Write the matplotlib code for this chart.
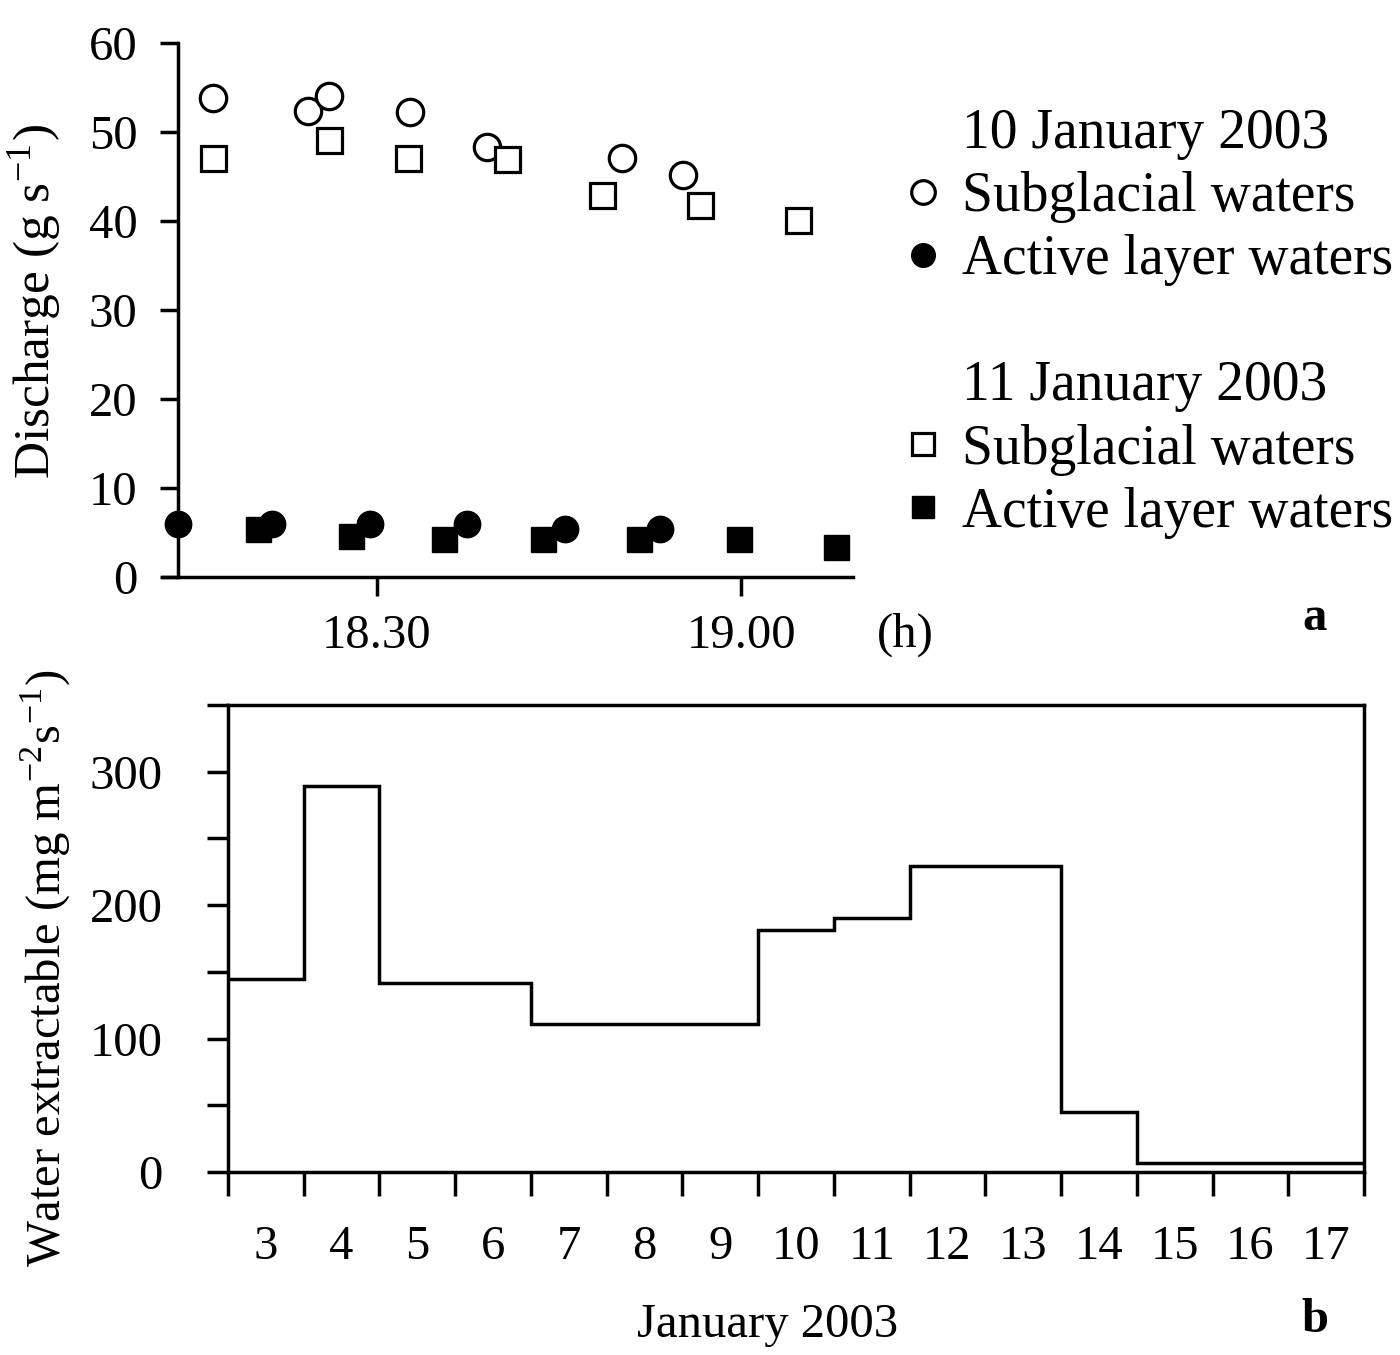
import matplotlib
matplotlib.use("Agg")
import matplotlib.pyplot as plt
from matplotlib.lines import Line2D
import numpy as np

plt.rcParams['font.family'] = ['Liberation Serif', 'DejaVu Serif']
plt.rcParams['mathtext.fontset'] = 'stix'

# ---- Panel a data (time in minutes after 18:00) ----
t_sub_10 = [16.5, 24.3, 26.1, 32.7, 39.1, 50.2, 55.2]
q_sub_10 = [53.8, 52.4, 54.1, 52.2, 48.3, 47.1, 45.2]
t_act_10 = [13.6, 21.4, 29.4, 37.4, 45.5, 53.3]
q_act_10 = [6.0, 6.0, 6.0, 6.0, 5.4, 5.4]
t_sub_11 = [16.5, 26.1, 32.6, 40.7, 48.5, 56.6, 64.7]
q_sub_11 = [47.1, 49.1, 47.1, 47.0, 42.9, 41.8, 40.1]
t_act_11 = [20.2, 27.9, 35.5, 43.7, 51.6, 59.8, 67.8]
q_act_11 = [5.4, 4.6, 4.3, 4.3, 4.3, 4.3, 3.4]
time_ticks = [30, 60]
time_labels = ['18.30', '19.00']

# ---- Panel b data ----
days = [3, 4, 5, 6, 7, 8, 9, 10, 11, 12, 13, 14, 15, 16, 17]
wex = [145, 289, 142, 142, 111, 111, 111, 181, 190, 229, 229, 45, 7, 7, 7]

W, H = 1400, 1355
fig = plt.figure(figsize=(14, 13.55), dpi=100)

FS = 35
LW = 2.5

# ---------------- Panel a ----------------
axa = fig.add_axes([163 / W, 1 - 577 / H, (853 - 163) / W, (577 - 43) / H])
axa.set_xlim(12.4, 69.2)
axa.set_ylim(0, 60)
ms = 19
axa.plot(t_sub_10, q_sub_10, 'o', ms=ms, mfc='white', mec='black', mew=2.3, ls='none', clip_on=False)
axa.plot(t_act_10, q_act_10, 'o', ms=ms, mfc='black', mec='black', ls='none', clip_on=False)
axa.plot(t_sub_11, q_sub_11, 's', ms=ms - 1, mfc='white', mec='black', mew=2.3, ls='none', clip_on=False)
axa.plot(t_act_11, q_act_11, 's', ms=ms - 1, mfc='black', mec='black', ls='none', clip_on=False)

for s in ['top', 'right']:
    axa.spines[s].set_visible(False)
axa.spines['left'].set_position(('data', 13.6))
for s in ['left', 'bottom']:
    axa.spines[s].set_linewidth(LW)
axa.set_yticks(np.arange(0, 61, 10))
axa.set_xticks(time_ticks)
axa.set_xticklabels(time_labels)
axa.tick_params(axis='y', direction='out', length=13, width=LW, labelsize=FS, pad=16)
axa.tick_params(axis='x', direction='out', length=14, width=LW, labelsize=FS, pad=13)
axa.set_ylabel(r'Discharge (g s$^{\mathregular{-1}}$)', fontsize=37, va='center')
axa.yaxis.set_label_coords((35 - 163) / (853 - 163), (577 - 302) / (577 - 43))

fig.text(905 / W, 1 - 635 / H, '(h)', fontsize=FS, ha='center', va='center')
fig.text(1315 / W, 1 - 618 / H, 'a', fontsize=FS, ha='center', va='center', fontweight='bold')

blank = Line2D([], [], ls='none', marker=None)
lms = 17
handles = [
    blank,
    Line2D([], [], ls='none', marker='o', ms=lms, mfc='white', mec='black', mew=2.3),
    Line2D([], [], ls='none', marker='o', ms=lms, mfc='black', mec='black'),
    blank,
    blank,
    Line2D([], [], ls='none', marker='s', ms=lms - 1, mfc='white', mec='black', mew=2.3),
    Line2D([], [], ls='none', marker='s', ms=lms - 1, mfc='black', mec='black'),
]
labels = ['10 January 2003', 'Subglacial waters', 'Active layer waters', ' ',
          '11 January 2003', 'Subglacial waters', 'Active layer waters']
fig.legend(handles, labels, loc='upper left', bbox_to_anchor=(895 / W, 1 - 108 / H),
           frameon=False, fontsize=40, handlelength=1.0, handletextpad=0.2,
           labelspacing=0.2, borderpad=0, borderaxespad=0)

# ---------------- Panel b ----------------
axb = fig.add_axes([228 / W, 1 - 1172 / H, (1364 - 228) / W, (1172 - 705) / H])
edges = np.concatenate([np.array(days) - 0.5, [days[-1] + 0.5]])
axb.stairs(wex, edges, color='black', lw=LW, baseline=None)
axb.set_xlim(edges[0], edges[-1])
axb.set_ylim(0, 350)
for s in axb.spines.values():
    s.set_linewidth(LW)
axb.set_yticks(np.arange(0, 351, 50))
axb.set_yticklabels(['0', '', '100', '', '200', '', '300', ''])
axb.set_xticks(edges)
axb.set_xticklabels([''] * len(edges))
axb.set_xticks(days, minor=True)
axb.set_xticklabels([str(d) for d in days], minor=True)
axb.tick_params(axis='y', direction='out', length=15, width=LW, labelsize=FS, pad=32)
axb.tick_params(axis='x', which='major', direction='out', length=17, width=LW)
axb.tick_params(axis='x', which='minor', length=0, labelsize=FS, pad=38)
axb.set_ylabel(r'Water extractable (mg m$^{\mathregular{-2}}$s$^{\mathregular{-1}}$)', fontsize=FS, va='center')
axb.yaxis.set_label_coords((45 - 228) / (1364 - 228), (1172 - 968) / (1172 - 705))
axb.set_xlabel('January 2003', fontsize=FS, va='center')
axb.xaxis.set_label_coords((768 - 228) / (1364 - 228), (1172 - 1325) / (1172 - 705))

fig.text(1315 / W, 1 - 1320 / H, 'b', fontsize=FS, ha='center', va='center', fontweight='bold')

fig.savefig('out.png', dpi=100)
